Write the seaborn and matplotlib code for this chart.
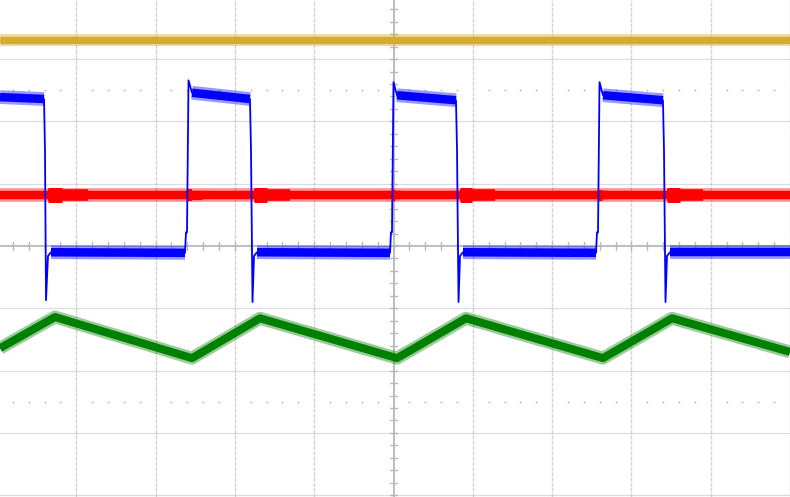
import numpy as np
import matplotlib
matplotlib.use("Agg")
import matplotlib.pyplot as plt
import seaborn as sns

# all values in screen divisions (10 x 8 graticule, origin at the centre)
yellow_t = [-4.96, 5.0]
yellow_v = [3.30, 3.30]
yellow_pp = 0.15

red_t = [-4.96, 5.0]
red_v = [0.82, 0.82]
red_pp = 0.17
# ringing on the red trace right after the blue edges
red_ring_start = [-4.36, -2.60, -1.76, -0.02, 0.84, 2.58, 3.45]
red_ring_end = [-3.85, -2.42, -1.30, 0.10, 1.28, 2.72, 3.90]
red_ring_pp = [0.30, 0.24, 0.30, 0.22, 0.30, 0.22, 0.30]

blue_t = [-4.962, -4.407, -4.395, -4.382, -4.357, -4.319,
          -2.629, -2.617, -2.604, -2.585, -2.541,
          -1.810, -1.797, -1.778, -1.759, -1.721,
          -0.044, -0.032, -0.019, 0.0, 0.044,
          0.788, 0.801, 0.820, 0.839, 0.876,
          2.554, 2.566, 2.579, 2.598, 2.642,
          3.398, 3.411, 3.430, 3.449, 3.487,
          5.0]
blue_v = [2.39, 2.36, 1.54, -0.87, -0.16, -0.10,
          -0.11, 0.22, 0.22, 2.66, 2.46,
          2.36, 1.54, -0.90, -0.16, -0.10,
          -0.11, 0.22, 0.22, 2.63, 2.42,
          2.34, 1.54, -0.90, -0.16, -0.10,
          -0.11, 0.22, 0.22, 2.63, 2.42,
          2.34, 1.54, -0.90, -0.16, -0.10,
          -0.10]
blue_pp = 0.17

green_t = [-4.962, -4.269, -2.541, -1.683, 0.044, 0.914, 2.642, 3.512, 5.0]
green_v = [-1.64, -1.14, -1.80, -1.16, -1.80, -1.16, -1.80, -1.16, -1.70]
green_pp = 0.16

PX_X = 79.3  # pixels per division
PX_Y = 62.3


def lw_from_pp(pp):
    return pp * PX_Y * 72 / 100


def band(ax, t, v, pp, color, z):
    for w, a in [(1.3, 0.4), (0.8, 1.0)]:
        ax.plot(t, v, color=color, alpha=a, lw=lw_from_pp(pp * w),
                solid_capstyle="butt", solid_joinstyle="round", zorder=z)


def trace(ax, t, v, pp, color, z):
    # thin line for the whole trace (the fast edges)
    sns.lineplot(x=t, y=v, sort=False, estimator=None, color=color,
                 lw=1.3, ax=ax, zorder=z)
    # noisy band on the slow parts
    for i in range(len(t) - 1):
        if t[i + 1] - t[i] > 0.3:
            band(ax, t[i:i + 2], v[i:i + 2], pp, color, z)


sns.set_style("white")
fig = plt.figure(figsize=(7.9, 4.97), dpi=100)
ax = fig.add_axes([0, 0, 1, 1])

# graticule
for gx in range(-5, 6):
    if gx != 0:
        ax.axvline(gx, color="#d4d4d4", lw=1.0, ls=(0, (3, 0.8)), zorder=0)
for gy in range(-4, 5):
    if gy != 0:
        ax.axhline(gy, color="#bcbcbc", lw=0.9, ls=(0, (0.8, 0.8)), zorder=0)
ax.axhline(0, color="#b8b8b8", lw=1.3, zorder=0.5)
ax.axvline(0, color="#b8b8b8", lw=1.3, zorder=0.5)
for mx in np.arange(-5, 5.01, 0.2):
    ax.plot([mx, mx], [-0.065, 0.065], color="#b8b8b8", lw=1.0, zorder=0.5)
for my in np.arange(-4, 4.01, 0.2):
    ax.plot([-0.05, 0.05], [my, my], color="#b8b8b8", lw=1.0, zorder=0.5)
dots = [d for d in np.arange(-5, 5.01, 0.2) if abs(d - round(d)) > 0.05]
for row in [2.5, -2.5]:
    ax.scatter(dots, [row] * len(dots), s=1.5, color="#b0b0b0", lw=0, zorder=0.5)

sns.lineplot(x=yellow_t, y=yellow_v, color="#d4ae26", lw=1, ax=ax, zorder=2)
band(ax, yellow_t, yellow_v, yellow_pp, "#d4ae26", 2)

sns.lineplot(x=red_t, y=red_v, color="#ff0000", lw=1, ax=ax, zorder=3)
band(ax, red_t, red_v, red_pp, "#ff0000", 3)
for s, e, pp in zip(red_ring_start, red_ring_end, red_ring_pp):
    mid = s + (e - s) * 0.35
    ax.plot([s, e], [red_v[0], red_v[0]], color="#ff0000",
            lw=lw_from_pp(pp * 0.62), solid_capstyle="butt", zorder=3)
    ax.plot([s, mid], [red_v[0], red_v[0]], color="#ff0000",
            lw=lw_from_pp(pp * 0.8), solid_capstyle="butt", zorder=3)

trace(ax, blue_t, blue_v, blue_pp, "#0000ff", 4)

sns.lineplot(x=green_t, y=green_v, sort=False, estimator=None, color="#008000",
             lw=1, ax=ax, zorder=4)
band(ax, green_t, green_v, green_pp, "#008000", 4)

ax.set_xlim(-393.5 / PX_X, 396.5 / PX_X)
ax.set_ylim(-251 / PX_Y, 246 / PX_Y)
ax.set_xticks([])
ax.set_yticks([])
ax.set_xlabel("")
ax.set_ylabel("")
for sp in ax.spines.values():
    sp.set_visible(False)
if ax.get_legend():
    ax.get_legend().remove()

fig.savefig("out.png", dpi=100)
